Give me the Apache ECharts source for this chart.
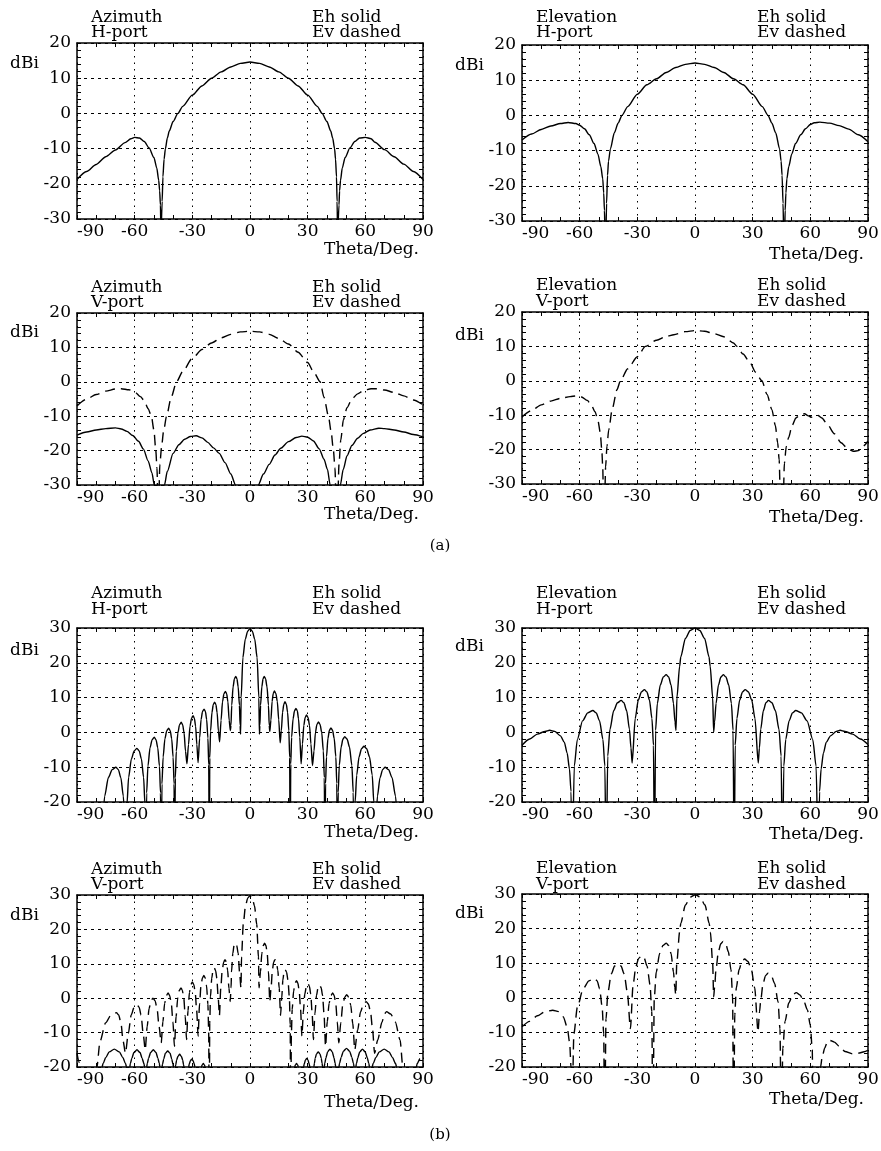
<!DOCTYPE html>
<html>
<head>
<meta charset="utf-8">
<script src="https://cdn.jsdelivr.net/npm/echarts@6/dist/echarts.min.js"></script>
<style>
html, body { margin: 0; padding: 0; background: #fff; }
#chart { width: 881px; height: 1151px; }
</style>
</head>
<body>
<div id="chart"></div>
<script>
// ---- data: [theta (deg), gain (dBi)] ----
// values below the axis minimum stand for nulls that go off the bottom of the plot

// (a) Azimuth, H-port, Eh
var azHa_eh = [[-90,-18.8],[-85,-16.5],[-80,-14.5],[-75,-12.3],[-70,-10.4],[-65,-8.3],[-62,-7.2],[-60,-6.8],[-57.5,-7],[-55,-8],[-52.5,-9.8],[-50,-12.5],[-48.5,-15.5],[-47.5,-19],[-47,-22],[-46.6,-26],[-46.3,-35],
  [-46,-35],[-45.7,-25],[-45.3,-18],[-44.7,-13],[-44,-10],[-43,-7],[-42,-5],[-40,-2.3],[-37.5,0],[-35,2],[-30,5.2],[-25,7.8],[-20,10],[-15,11.8],[-10,13.2],[-5,14.2],[0,14.6],
  [5,14.2],[10,13.2],[15,11.8],[20,10],[25,7.8],[30,5.2],[35,2],[37.5,0],[40,-2.3],[42,-5],[43,-7],[44,-10],[44.5,-13],[45,-18],[45.3,-25],[45.6,-35],
  [45.9,-35],[46.3,-26],[46.6,-22],[47.1,-19],[48,-15.5],[49.5,-12.5],[52,-9.8],[54.5,-8],[57,-7],[60,-6.8],[63,-7.2],[65,-8.2],[70,-10.3],[75,-12.3],[80,-14.4],[85,-16.5],[90,-18.8]];

// (a) Elevation, H-port, Eh
var elHa_eh = [[-90,-7],[-85,-5.3],[-80,-4],[-75,-3],[-70,-2.3],[-66,-2],[-62,-2.3],[-60,-2.8],[-57.5,-3.8],[-55,-5.5],[-52.5,-8],[-50.5,-11],[-49,-14.5],[-48,-18],[-47.5,-22],[-47.1,-27],[-46.8,-35],
  [-46.4,-35],[-46,-25],[-45.5,-17],[-45,-13],[-44,-9.5],[-42,-5],[-40,-2.2],[-38,0],[-35,2.5],[-30,6],[-25,8.7],[-20,10.4],[-15,12.2],[-10,13.6],[-5,14.5],[0,14.9],
  [5,14.5],[10,13.6],[15,12.2],[20,10.4],[25,8.7],[30,6],[35,2.5],[38,0],[40,-2.2],[42,-5],[44,-9.5],[44.8,-13],[45.3,-17],[45.8,-25],[46.2,-35],
  [46.6,-35],[46.9,-27],[47.3,-22],[47.8,-18],[48.8,-14.5],[50.3,-11],[52.3,-8],[55,-5.5],[57.5,-3.8],[60,-2.6],[62,-2.1],[65,-1.9],[70,-2.2],[75,-2.9],[80,-3.9],[85,-5.5],[90,-7.5]];

// (a) Azimuth, V-port, Eh and Ev
var azVa_eh = [[-90,-15.5],[-85,-14.6],[-80,-14],[-75,-13.6],[-70,-13.4],[-67,-13.7],[-64,-14.4],[-61,-15.6],[-58,-17.3],[-55.5,-19.5],[-53,-23],[-51,-26.5],[-49.8,-30],[-49.3,-40],
  [-45,-40],[-44.5,-30],[-43,-26],[-40,-20.8],[-37,-18.3],[-34,-16.7],[-31,-15.9],[-28,-15.7],[-25,-16.3],[-22,-17.6],[-19,-19.2],[-16,-20.8],[-13,-23.5],[-10,-26.8],[-7.5,-30],[-6.8,-40],
  [3.6,-40],[4.3,-30],[7,-26.8],[10,-24],[13,-21.3],[16,-19.3],[20,-17.4],[24,-16.2],[27,-15.8],[30,-16.1],[33,-17.2],[36,-19.5],[38.5,-22.5],[40.3,-25.5],[41.7,-30],[42.3,-40],
  [46.3,-40],[47,-30],[48.5,-25.5],[50.5,-21.5],[53,-18.5],[56,-16.4],[59,-15],[62.5,-14],[67,-13.5],[70,-13.6],[75,-14],[80,-14.6],[85,-15.3],[90,-16]];
var azVa_ev = [[-90,-7],[-85,-5],[-80,-3.7],[-75,-2.7],[-70,-2.1],[-67,-2],[-63,-2.3],[-60,-2.9],[-57,-4.3],[-55,-5.5],[-53,-7.8],[-51.3,-10],[-50,-14],[-49,-20],[-48.4,-25],[-47.9,-35],
  [-47.5,-35],[-46.9,-24],[-46,-19],[-45,-14.5],[-43.4,-10],[-41,-4.5],[-38.2,0],[-35,3],[-30,6.8],[-25,9.4],[-20,11.3],[-15,12.8],[-10,13.8],[-5,14.5],[0,14.7],
  [5,14.5],[10,13.8],[15,12.6],[20,11],[25,8.6],[30,5.6],[33,3],[36.5,0],[38.5,-4.5],[40.8,-10],[42.2,-14.5],[43.4,-20],[44.2,-25],[44.8,-35],
  [45.6,-35],[46.3,-24],[47.2,-17],[48.6,-11],[50.5,-7.5],[53,-5],[56,-3.5],[59,-2.6],[63,-2],[66,-2],[70,-2.4],[75,-3.1],[80,-4.1],[85,-5.3],[90,-6.7]];

// (a) Elevation, V-port, Ev
var elVa_ev = [[-90,-10.5],[-85,-8.6],[-80,-7],[-75,-5.9],[-70,-5.1],[-65,-4.6],[-62,-4.4],[-59,-4.7],[-56,-5.7],[-54,-7],[-52,-9],[-50.5,-11.5],[-49.3,-15],[-48.5,-20],[-48,-25],[-47.6,-35],
  [-47,-35],[-46.5,-25],[-45.8,-19],[-44.9,-14.3],[-43,-8],[-40.6,-2.6],[-38.8,0],[-35,3.5],[-30,7],[-25.8,10],[-20,11.8],[-15,12.9],[-11,13.4],[-5,14.3],[0,14.6],
  [5,14.4],[10,13.7],[15,12.8],[20,11],[21.8,10],[25,7.8],[28.8,5.1],[31.5,2.5],[34.8,0],[37.5,-4],[40,-8.4],[41.8,-13],[43,-18],[43.8,-23],[44.4,-35],
  [45.9,-35],[46.5,-24],[47.5,-19],[48.7,-16.5],[50.5,-13],[52.5,-10.8],[55,-9.8],[57,-9.6],[59,-10.2],[60.5,-10.6],[62,-10.2],[64,-10.1],[66,-10.8],[69,-12.8],[72.5,-15.4],[76,-18],[79.5,-19.8],[82.5,-20.5],[85,-20.3],[87.5,-19],[90,-17.5]];

// (b) Azimuth, H-port, Eh
var azHb_eh = [[-90,-40],[-77.5,-40],
  [-76.7,-26],[-75.6,-18.3],[-73.7,-13],[-71.7,-10.7],[-69.8,-10],[-68.5,-10.7],[-67.2,-13],[-65.9,-18.3],[-65.1,-26],[-64.6,-40],
  [-64,-20.6],[-63.15,-12.9],[-61.7,-7.6],[-60.25,-5.3],[-58.8,-4.6],[-57.65,-5.3],[-56.5,-7.6],[-55.35,-12.9],[-54.65,-20.6],[-54.2,-40],
  [-53.76,-17.4],[-53.1,-9.7],[-52,-4.4],[-50.9,-2.1],[-49.8,-1.4],[-48.9,-2.1],[-48,-4.4],[-47.1,-9.7],[-46.56,-17.4],[-46.2,-40],
  [-45.8,-14.8],[-45.2,-7.1],[-44.25,-1.8],[-43.3,0.5],[-42.3,1.2],[-41.5,0.5],[-40.75,-1.8],[-40,-7.1],[-39.5,-14.8],[-39.2,-40],
  [-38.85,-13.1],[-38.35,-5.4],[-37.5,-0.1],[-36.65,2.2],[-35.8,2.9],[-35.05,2.2],[-34.3,-0.1],[-33.55,-5.4],[-32.8,-9],
  [-32,-3.5],[-31.2,1.8],[-30.4,4.1],[-29.6,4.8],[-28.95,4.1],[-28.3,1.8],[-27.65,-3.5],[-27,-8.7],
  [-26.2,-1.6],[-25.45,3.7],[-24.7,6],[-23.9,6.7],[-23.2,6],[-22.55,3.7],[-21.9,-1.6],[-21.47,-9.3],[-21.2,-40],
  [-20.92,-7.3],[-20.5,0.4],[-19.8,5.7],[-19.1,8],[-18.4,8.7],[-17.75,8],[-17.1,5.7],[-16.45,0.4],[-15.8,-2.7],
  [-15.05,3.5],[-14.3,8.8],[-13.55,11.1],[-12.8,11.8],[-12.15,11.1],[-11.5,8.8],[-10.85,3.5],[-10.2,0.5],
  [-9.9,2],[-9.5,7.8],[-8.8,13.1],[-8.1,15.4],[-7.4,16.1],[-6.8,15.4],[-6.15,13.1],[-5.5,7.8],[-5.15,2],[-4.9,-0.5],
  [-4.6,10],[-3.7,21.5],[-2.45,26.8],[-1.2,29.1],[0,29.8],[1.2,29.1],[2.45,26.8],[3.7,21.5],[4.6,10],[4.9,-0.5],
  [5.15,2],[5.5,7.8],[6.15,13.1],[6.8,15.4],[7.4,16.1],[8.1,15.4],[8.85,13.1],[9.6,7.8],[10,2],[10.3,0.3],
  [10.9,3.6],[11.5,8.9],[12.1,11.2],[12.7,11.9],[13.45,11.2],[14.2,8.9],[14.95,3.6],[15.7,-3],
  [16.3,0.5],[16.95,5.8],[17.6,8.1],[18.2,8.8],[18.9,8.1],[19.55,5.8],[20.2,0.5],[20.64,-7.2],[20.9,-40],
  [21.2,-9.1],[21.65,-1.4],[22.4,3.9],[23.15,6.2],[23.9,6.9],[24.6,6.2],[25.25,3.9],[25.9,-1.4],[26.6,-9],
  [27.3,-3.3],[28,2],[28.7,4.3],[29.4,5],[30.2,4.3],[30.95,2],[31.7,-3.3],[32.5,-9.5],
  [33.3,-5.3],[34.05,0],[34.8,2.3],[35.6,3],[36.45,2.3],[37.3,0],[38.15,-5.3],[38.65,-13],[39,-40],
  [39.3,-14.7],[39.8,-7],[40.55,-1.7],[41.3,0.6],[42.1,1.3],[42.95,0.6],[43.8,-1.7],[44.65,-7],[45.15,-14.7],[45.5,-40],
  [45.88,-17.2],[46.45,-9.5],[47.4,-4.2],[48.35,-1.9],[49.3,-1.2],[50.5,-1.9],[51.75,-4.2],[53,-9.5],[53.7,-17.2],[54.2,-40],
  [54.7,-20],[55.5,-12.3],[56.75,-7],[58,-4.7],[59.3,-4],[60.7,-4.7],[62.15,-7],[63.6,-12.3],[64.4,-20],[65,-40],
  [65.5,-26],[66.3,-18.3],[67.65,-13],[69,-10.7],[70.3,-10],[72.1,-10.7],[73.9,-13],[75.7,-18.3],[76.8,-26],[77.5,-40],[90,-40]];

// (b) Elevation, H-port, Eh
var elHb_eh = [[-90,-3.7],[-86,-1.9],[-82,-0.5],[-78,0.3],[-75.6,0.6],[-73,0.3],[-70,-1],[-68,-2.8],[-66.5,-6],[-65.3,-10.5],[-64.5,-17],[-63.9,-40],
  [-62.8,-9.7],[-61.2,-2],[-58.5,3.3],[-55.8,5.6],[-53.1,6.3],[-51.4,5.6],[-49.65,3.3],[-47.9,-2],[-46.9,-9.7],[-46.2,-40],
  [-45.4,-6.8],[-44.25,0.9],[-42.3,6.2],[-40.35,8.5],[-38.4,9.2],[-37,8.5],[-35.55,6.2],[-34.1,0.9],[-33.3,-4.5],[-32.7,-8.8],
  [-31.1,4],[-29.5,9.3],[-27.9,11.6],[-26.3,12.3],[-25,11.6],[-23.7,9.3],[-22.4,4],[-21.6,-3.7],[-21.1,-40],
  [-20.5,0.6],[-19.6,8.3],[-18.05,13.6],[-16.5,15.9],[-15,16.6],[-13.7,15.9],[-12.45,13.6],[-11.2,8.3],[-10.4,3],[-9.9,0.6],
  [-9.4,10],[-8,19],[-7.4,21.7],[-5,27],[-2.5,29.3],[0,30],[2.5,29.3],[5,27],[7.3,21.7],[7.9,19],[9.2,10],[9.7,0.1],
  [10.2,3],[10.95,8.3],[12.2,13.6],[13.45,15.9],[14.7,16.6],[16.1,15.9],[17.55,13.6],[18.95,8.3],[19.8,0.6],[20.4,-40],
  [20.9,-3.7],[21.8,4],[23.25,9.3],[24.7,11.6],[26.1,12.3],[27.8,11.6],[29.5,9.3],[31.2,4],[32.9,-8.8],
  [33.5,-4.5],[34.2,0.9],[35.55,6.2],[36.9,8.5],[38.2,9.2],[40,8.5],[41.85,6.2],[43.7,0.9],[44.8,-6.8],[45.5,-40],
  [46.2,-9.7],[47.2,-2],[48.95,3.3],[50.7,5.6],[52.4,6.3],[55.35,5.6],[58.3,3.3],[61.25,-2],[63,-9.7],[64.2,-40],
  [64.8,-17],[65.6,-10.5],[66.8,-6],[68.3,-2.8],[70.5,-1],[73.5,0.3],[75.5,0.6],[78,0.3],[82,-0.5],[86,-1.9],[90,-3.5]];

// (b) Azimuth, V-port, Eh and Ev
var azVb_eh = [[-90,-40],[-77.5,-40],
  [-77,-20],[-76.4,-19],[-75.1,-17.3],[-73.2,-15.6],[-70.6,-14.8],[-68,-15.6],[-66.1,-17.3],[-64.8,-19],[-64.2,-20],[-63.7,-40],
  [-63,-40],[-62.6,-20],[-62.2,-19],[-61.5,-17.5],[-60.4,-15.8],[-58.8,-15],[-57.2,-15.8],[-56.1,-17.5],[-55.2,-19],[-54.8,-20],[-54.4,-40],
  [-54.1,-40],[-53.8,-20],[-53.4,-19],[-52.8,-17.5],[-51.7,-15.8],[-50.3,-15],[-48.9,-15.8],[-47.9,-17.5],[-47.2,-19],[-46.8,-20],[-46.5,-40],
  [-46.1,-40],[-45.8,-20],[-45.5,-19.2],[-44.9,-17.7],[-44,-16],[-42.8,-15.3],[-41.6,-16],[-40.7,-17.7],[-40.1,-19.2],[-39.8,-20],[-39.5,-40],
  [-39.2,-40],[-38.9,-20],[-38.6,-19.3],[-38.2,-18],[-37.5,-16.9],[-36.6,-16.3],[-35.7,-16.9],[-35,-18],[-34.6,-19.3],[-34.3,-20],[-34,-40],
  [-32.3,-40],[-32,-20],[-31.5,-19],[-31,-18.2],[-30.3,-17.7],[-29.6,-18.2],[-29.1,-19],[-28.6,-20],[-28.3,-40],
  [-25.5,-40],[-25.3,-20],[-24.8,-19.3],[-24.3,-19],[-23.8,-19.3],[-23.3,-20],[-23.1,-40],
  [23,-40],[23.2,-20],[23.7,-19.3],[24.2,-19],[24.7,-19.3],[25.2,-20],[25.4,-40],
  [27.5,-40],[27.8,-20],[28.3,-19],[28.8,-18],[29.5,-17.5],[30.2,-18],[30.7,-19],[31.2,-20],[31.5,-40],
  [32.9,-40],[33.2,-20],[33.5,-19],[33.9,-17.5],[34.6,-16.2],[35.5,-15.6],[36.4,-16.2],[37.1,-17.5],[37.5,-19],[37.8,-20],[38.1,-40],
  [38.3,-40],[38.6,-20],[38.9,-19],[39.5,-17.3],[40.4,-15.6],[41.6,-14.8],[42.8,-15.6],[43.7,-17.3],[44.3,-19],[44.6,-20],[44.9,-40],
  [45.9,-40],[46.2,-20],[46.6,-19],[47.4,-17.2],[48.6,-15.4],[50.2,-14.6],[51.8,-15.4],[53,-17.2],[53.8,-19],[54.2,-20],[54.5,-40],
  [54.7,-40],[55,-20],[55.4,-19],[56.1,-17.3],[57.1,-15.6],[58.5,-14.8],[59.9,-15.6],[61,-17.3],[61.8,-19],[62.2,-20],[62.5,-40],
  [63.2,-40],[63.5,-20],[64.1,-19],[65.4,-17.3],[67.3,-15.6],[69.8,-14.8],[72.3,-15.6],[74.2,-17.3],[75.7,-19],[76.3,-20],[76.6,-40],[90,-40]];
var azVb_ev = [[-90,-16],[-89,-18.5],[-88,-24],[-87.5,-40],[-80.8,-40],
  [-79.7,-20.2],[-78,-12.5],[-75.15,-7.2],[-72.3,-4.9],[-69.5,-4.2],[-68.3,-4.9],[-67.15,-7.2],[-66,-12.5],[-64.8,-16],
  [-63.3,-10.2],[-61.8,-4.9],[-60.3,-2.6],[-58.8,-1.9],[-57.7,-2.6],[-56.65,-4.9],[-55.6,-10.2],[-54.5,-15],
  [-53.5,-8.3],[-52.5,-3],[-51.5,-0.7],[-50.5,0],[-49.4,-0.7],[-48.35,-3],[-47.3,-8.3],[-46.2,-13],
  [-45.3,-6.8],[-44.4,-1.5],[-43.5,0.8],[-42.6,1.5],[-41.8,0.8],[-40.95,-1.5],[-40.1,-6.8],[-39.3,-14],
  [-38.45,-5.3],[-37.6,0],[-36.75,2.3],[-35.9,3],[-35.2,2.3],[-34.45,0],[-33.7,-5.3],[-33,-12],
  [-32.25,-3.6],[-31.5,1.7],[-30.75,4],[-30,4.7],[-29.25,4],[-28.5,1.7],[-27.75,-3.6],[-27,-11],
  [-26.25,-1.7],[-25.5,3.6],[-24.75,5.9],[-24,6.6],[-23.3,5.9],[-22.6,3.6],[-21.9,-1.7],[-21.5,-9.4],[-21.2,-40],
  [-20.95,-7.2],[-20.55,0.5],[-19.9,5.8],[-19.25,8.1],[-18.6,8.8],[-17.9,8.1],[-17.25,5.8],[-16.6,0.5],[-15.9,-5],
  [-15.2,2.9],[-14.45,8.2],[-13.7,10.5],[-13,11.2],[-12.3,10.5],[-11.65,8.2],[-10.95,2.9],[-10.3,-1],
  [-9.85,3],[-9.6,7.7],[-8.95,13],[-8.3,15.3],[-7.6,16],[-6.9,15.3],[-6.15,13],[-5.45,7.7],[-4.7,3],
  [-4.4,12],[-3.5,21.5],[-2.35,26.8],[-1.2,29.1],[0,29.8],[1.2,29.1],[2.35,26.8],[3.5,21.5],[4.4,12],[4.7,3],
  [5.45,7.7],[6.15,13],[6.9,15.3],[7.6,16],[8.3,15.3],[8.95,13],[9.6,7.7],[10.3,-1],
  [10.95,2.9],[11.65,8.2],[12.3,10.5],[13,11.2],[13.7,10.5],[14.45,8.2],[15.2,2.9],[15.9,-5],
  [16.5,0],[17.1,5.3],[17.7,7.6],[18.3,8.3],[19,7.6],[19.75,5.3],[20.5,0],[20.9,-7.7],[21.2,-40],
  [21.5,-10.9],[21.95,-3.2],[22.7,2.1],[23.45,4.4],[24.2,5.1],[24.9,4.4],[25.6,2.1],[26.3,-3.2],[27,-11],
  [27.75,-4.1],[28.5,1.2],[29.35,3.5],[30.2,4.2],[30.9,3.5],[31.6,1.2],[32.3,-4.1],[33,-12],
  [33.8,-4.5],[34.6,0.8],[35.4,3.1],[36.2,3.8],[37,3.1],[37.75,0.8],[38.5,-4.5],[39.3,-14],
  [40.2,-6.8],[41.15,-1.5],[42.1,0.8],[43,1.5],[43.8,0.8],[44.6,-1.5],[45.4,-6.8],[46.2,-13],
  [47.2,-7.3],[48.25,-2],[49.3,0.3],[50.3,1],[51.35,0.3],[52.4,-2],[53.45,-7.3],[54.5,-15],
  [56,-9.3],[57.5,-4],[59,-1.7],[60.5,-1],[61.6,-1.7],[62.7,-4],[63.8,-9.3],[64.8,-16],
  [66.4,-12.2],[68.7,-6.9],[69.9,-4.6],[71,-3.9],[73.2,-4.6],[75.6,-6.9],[78.1,-12.2],[79.5,-20],[80,-40],[84.5,-40],[85.5,-24],[87,-19],[88.5,-17.5],[90,-16.5]];

// (b) Elevation, V-port, Ev
var elVb_ev = [[-90,-8.4],[-86,-6.8],[-82,-5.2],[-78,-4],[-74,-3.6],[-71,-4],[-68.5,-5.5],[-66.5,-8.5],[-65.2,-13],[-64.5,-20],[-64.2,-40],
  [-63,-10.4],[-61.2,-2.7],[-58.2,2.6],[-55.2,4.9],[-52.2,5.6],[-50.9,4.9],[-49.6,2.6],[-48.3,-2.7],[-47.5,-10.4],[-47,-40],
  [-46.3,-6.1],[-45.3,1.6],[-43.55,6.9],[-41.8,9.2],[-40.1,9.9],[-38.5,9.2],[-36.85,6.9],[-35.2,1.6],[-33.6,-8.9],
  [-32.2,3.8],[-30.75,9.1],[-29.3,11.4],[-27.9,12.1],[-26.4,11.4],[-24.9,9.1],[-23.4,3.8],[-22.5,-3.9],[-21.9,-40],
  [-21.2,-0.2],[-20.15,7.5],[-18.4,12.8],[-16.65,15.1],[-14.9,15.8],[-13.7,15.1],[-12.45,12.8],[-11.2,7.5],[-10.5,3],[-10,0.8],
  [-9.5,10],[-8,19],[-7.4,21.5],[-5,26.8],[-2.5,29.1],[0.2,29.8],[2.7,29.1],[5.2,26.8],[7.4,21.5],[8,19],[9.2,10],[9.7,0.3],
  [10.2,3],[10.9,8],[12.15,13.3],[13.4,15.6],[14.6,16.3],[16,15.6],[17.35,13.3],[18.75,8],[19.55,0.3],[20.1,-40],
  [20.7,-4.8],[21.5,2.9],[22.95,8.2],[24.4,10.5],[25.8,11.2],[27.55,10.5],[29.3,8.2],[31.05,2.9],[32.8,-9.8],
  [33.6,-4],[34.1,-1.2],[35.4,4.1],[36.7,6.4],[38,7.1],[39.7,6.4],[41.45,4.1],[43.2,-1.2],[44.2,-8.9],[44.9,-40],
  [45.7,-14.5],[46.85,-6.8],[48.8,-1.5],[50.75,0.8],[52.7,1.5],[54.6,0.8],[56.5,-0.8],[58.5,-3.5],[60,-8],[61,-15],[61.5,-40],
  [64.9,-40],[65.3,-20],[66.2,-17],[67.5,-14.5],[68.8,-12.8],[70.1,-12.3],[72.5,-12.8],[75,-14],[78,-15.5],[82,-16.2],[85,-16],[88,-15.6],[90,-15.2]];

var planeNames = ['Azimuth', 'Elevation', 'Azimuth', 'Elevation', 'Azimuth', 'Elevation', 'Azimuth', 'Elevation'];
var portNames = ['H-port', 'H-port', 'V-port', 'V-port', 'H-port', 'H-port', 'V-port', 'V-port'];
var yMins = [-30, -30, -30, -30, -20, -20, -20, -20];
var yMaxs = [20, 20, 20, 20, 30, 30, 30, 30];
var xTicks = [-90, 90, 30];
var ehSeries = [azHa_eh, elHa_eh, azVa_eh, null, azHb_eh, elHb_eh, azVb_eh, null];
var evSeries = [null, null, azVa_ev, elVa_ev, null, null, azVb_ev, elVb_ev];

// ---- layout ----
var gridLeft = [77, 522, 77, 522, 77, 522, 77, 522];
var gridTop = [43, 45, 313, 312, 628, 628, 895, 894];
var gridH = [176, 176, 172, 172, 174, 174, 172, 173];
var gridW = 346;
var titleY = [17.5, 17.5, 287.5, 286, 594, 594, 869.5, 869];
var dbiY = [64, 66, 333, 336, 651, 647, 916, 914];
var thetaY = [250, 255, 515, 518, 833, 835, 1103, 1100];

var FONT = '"DejaVu Serif", "Liberation Serif", serif';
var INK = '#000';

var grids = [], xAxes = [], yAxes = [], series = [], graphics = [];

function txt(s, x, y, align, size) {
  graphics.push({
    type: 'text', silent: true, x: x, y: y,
    style: {
      text: s, fill: INK, font: (size || 17) + 'px ' + FONT,
      fontSize: size || 17, fontFamily: FONT,
      textAlign: align || 'left', align: align || 'left',
      textVerticalAlign: 'middle', verticalAlign: 'middle'
    }
  });
}

for (var i = 0; i < 8; i++) {
  grids.push({ left: gridLeft[i], top: gridTop[i], width: gridW, height: gridH[i], show: false, outerBoundsMode: 'none' });

  var tickStyle = { show: true, inside: true, length: 4, lineStyle: { color: INK, width: 1 } };
  var minorX = { show: true, splitNumber: 3, length: 4, lineStyle: { color: INK, width: 1 } };
  var minorY = { show: true, splitNumber: 5, length: 4, lineStyle: { color: INK, width: 1 } };
  var frame = { show: true, onZero: false, lineStyle: { color: INK, width: 1.5 } };

  xAxes.push({
    type: 'value', gridIndex: i, position: 'bottom', min: xTicks[0], max: xTicks[1], interval: xTicks[2],
    axisLine: frame, axisTick: tickStyle, minorTick: minorX,
    axisLabel: { color: INK, fontFamily: FONT, fontSize: 17, margin: 4, alignMinLabel: 'left', hideOverlap: false },
    splitLine: { show: true, lineStyle: { color: INK, width: 1, type: [1.5, 5] } }
  });
  xAxes.push({
    type: 'value', gridIndex: i, position: 'top', min: xTicks[0], max: xTicks[1], interval: xTicks[2],
    axisLine: frame, axisTick: tickStyle, minorTick: minorX,
    axisLabel: { show: false }, splitLine: { show: false }
  });
  yAxes.push({
    type: 'value', gridIndex: i, position: 'left', min: yMins[i], max: yMaxs[i], interval: 10,
    axisLine: frame, axisTick: tickStyle, minorTick: minorY,
    axisLabel: { color: INK, fontFamily: FONT, fontSize: 17, margin: 6, hideOverlap: false },
    splitLine: { show: true, lineStyle: { color: INK, width: 1, type: [3, 4] } }
  });
  yAxes.push({
    type: 'value', gridIndex: i, position: 'right', min: yMins[i], max: yMaxs[i], interval: 10,
    axisLine: frame, axisTick: tickStyle, minorTick: minorY,
    axisLabel: { show: false }, splitLine: { show: false }
  });

  if (ehSeries[i]) {
    series.push({
      type: 'line', name: 'Eh', xAxisIndex: 2 * i, yAxisIndex: 2 * i, data: ehSeries[i],
      showSymbol: false, smooth: 0.25, smoothMonotone: 'x', clip: true, silent: true,
      lineStyle: { color: INK, width: 1.4, type: 'solid' }
    });
  }
  if (evSeries[i]) {
    series.push({
      type: 'line', name: 'Ev', xAxisIndex: 2 * i, yAxisIndex: 2 * i, data: evSeries[i],
      showSymbol: false, smooth: 0.25, smoothMonotone: 'x', clip: true, silent: true,
      lineStyle: { color: INK, width: 1.4, type: [10, 6] }
    });
  }

  var L = gridLeft[i];
  txt(planeNames[i], L + 14, titleY[i], 'left');
  txt(portNames[i], L + 14, titleY[i] + 15.5, 'left');
  txt('Eh solid', L + 235, titleY[i], 'left');
  txt('Ev dashed', L + 235, titleY[i] + 15.5, 'left');
  txt('dBi', L - 67, dbiY[i], 'left');
  txt('Theta/Deg.', L + gridW - 4, thetaY[i], 'right');
}
txt('(a)', 440, 546, 'center', 15);
txt('(b)', 440, 1135, 'center', 15);

var chart = echarts.init(document.getElementById('chart'), null, { renderer: 'canvas' });
chart.setOption({
  animation: false,
  backgroundColor: '#fff',
  grid: grids,
  xAxis: xAxes,
  yAxis: yAxes,
  series: series,
  graphic: graphics
});
</script>
</body>
</html>
